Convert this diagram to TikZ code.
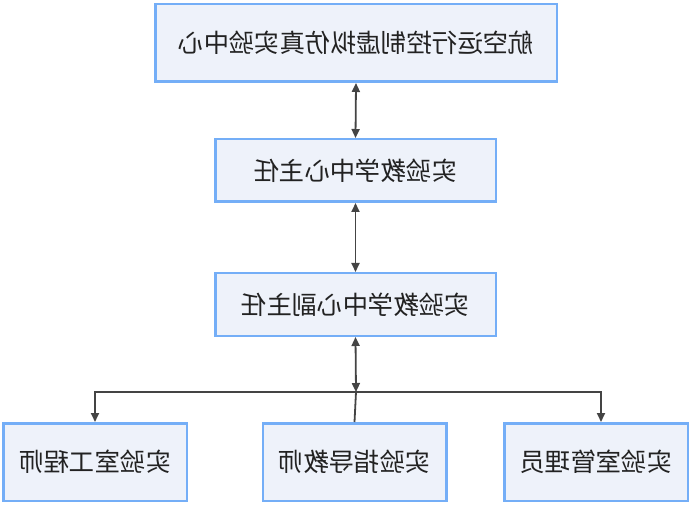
\documentclass[tikz,border=0pt]{standalone}
\usepackage{fontspec}
\usepackage{graphicx}
\newfontfamily\cjk{Noto Sans CJK SC}
\usetikzlibrary{arrows.meta}
\definecolor{boxblue}{HTML}{74AEF7}
\definecolor{boxfill}{HTML}{EEF2FA}
\definecolor{linegray}{HTML}{444444}
\definecolor{textdark}{HTML}{222222}

\begin{document}
\begin{tikzpicture}[x = 1pt, y = -1pt,
  box/.style = {draw = boxblue, fill = boxfill, line width = 2.5pt, inner sep = 0pt,
    text = textdark, font = \cjk\fontsize{25.4}{25.4}\selectfont},
  bigbox/.style = {box, minimum width = 280.5pt, minimum height = 62.5pt},
  smallbox/.style = {box, minimum width = 183.5pt, minimum height = 77.5pt},
  arr/.style = {line width = 1.8pt, draw = linegray,
    >={Triangle[length = 9pt, width = 8pt]}}]
\useasboundingbox (0, 0) rectangle (691, 505);
%\draw[very thin, color = gray](0, 0) grid (691, 505);
\node (centre) [box, minimum width = 401.5pt, minimum height = 77.5pt] at (356, 43)
  {\reflectbox{航空运行控制虚拟仿真实验中心}};
\node (head) [bigbox] at (355.5, 170.5) {\reflectbox{实验教学中心主任}};
\node (deputy) [bigbox] at (355.5, 304.5) {\reflectbox{实验教学中心副主任}};
\node (engineer) [smallbox] at (95, 462) {\reflectbox{实验室工程师}};
\node (teacher) [smallbox] at (354.5, 462) {\reflectbox{实验指导教师}};
\node (admin) [smallbox] at (596, 462) {\reflectbox{实验室管理员}};
\coordinate (split) at (356, 392);
\draw[arr, <->] (centre.south) -- (head.north);
\draw[arr, <->] (head.south) -- (deputy.north);
\draw[arr, <->] (deputy.south) -- (split);
\draw[arr] (split) -- (teacher.north);
\draw[arr, ->] (split) -| (engineer.north);
\draw[arr, ->] (split) -| ([xshift = 5pt]admin.north);
\end{tikzpicture}
\end{document}
